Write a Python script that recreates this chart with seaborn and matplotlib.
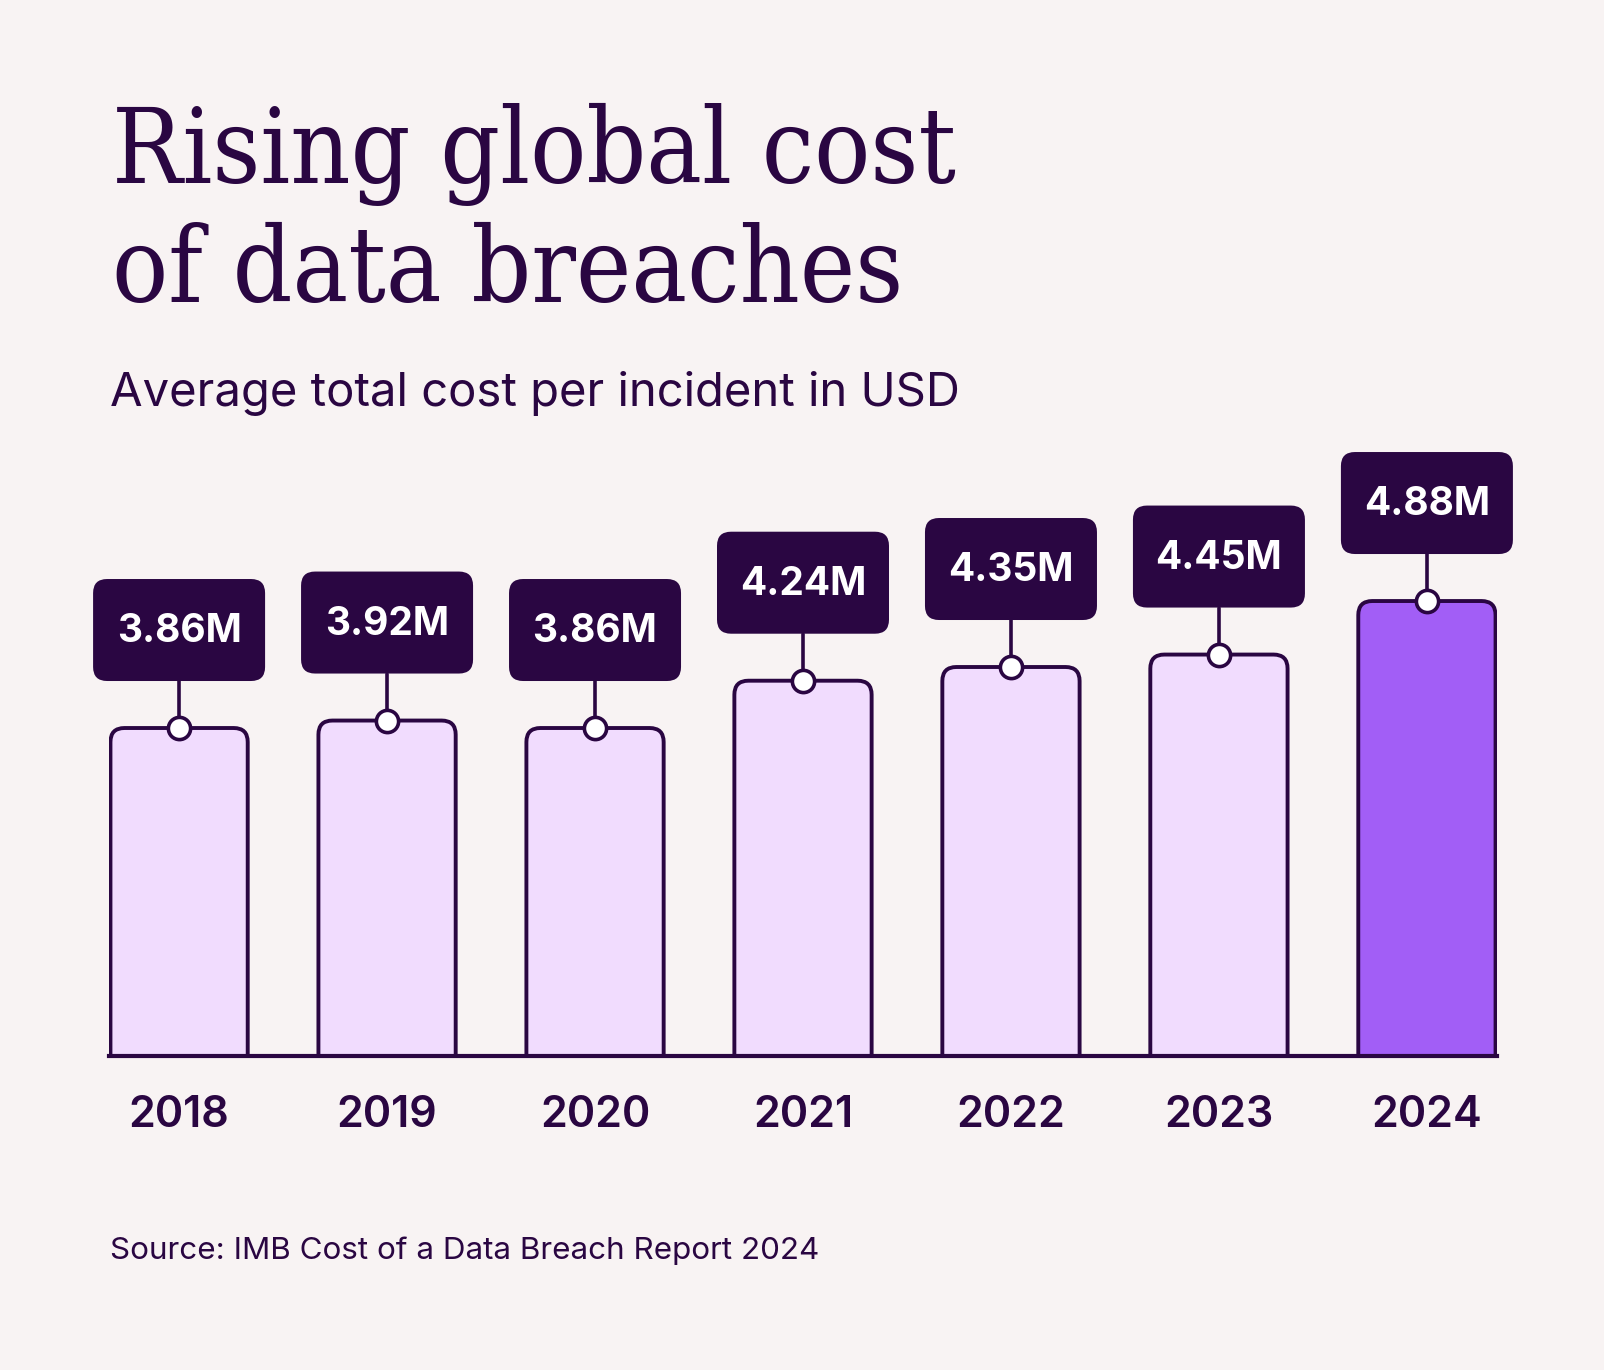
import matplotlib
matplotlib.use("Agg")
import matplotlib.pyplot as plt
import matplotlib.transforms as mtransforms
from matplotlib.patches import FancyBboxPatch
from matplotlib.lines import Line2D
import pandas as pd
import seaborn as sns

years = ["2018", "2019", "2020", "2021", "2022", "2023", "2024"]
costs = [3.86, 3.92, 3.86, 4.24, 4.35, 4.45, 4.88]
labels = ["3.86M", "3.92M", "3.86M", "4.24M", "4.35M", "4.45M", "4.88M"]
highlight = ["2024"]

BG = "#F8F3F3"
DARK = "#2A0642"
LIGHT = "#F1DCFE"
ACCENT = "#A25EF6"

sns.set_theme(style="white")
plt.rcParams["font.family"] = ["Inter", "DejaVu Sans"]

df = pd.DataFrame({"year": years, "cost": costs})
palette = {y: (ACCENT if y in highlight else LIGHT) for y in years}

W, H = 1604, 1370
fig = plt.figure(figsize=(W / 100, H / 100), dpi=100, facecolor=BG)
ax = fig.add_axes([109 / W, 314 / H, 1388 / W, 616 / H])
ax.set_facecolor(BG)

sns.barplot(data=df, x="year", y="cost", hue="year", palette=palette,
            width=0.66, legend=False, ax=ax, edgecolor=DARK, linewidth=2.8,
            saturation=1)

ax.set_xlim(-0.337, 6.337)
ax.set_ylim(1.2256, 1.2256 + 616 / 124.5)

# swap plain bars for ones with rounded top corners
p0 = ax.transData.transform((0, 0))
p1 = ax.transData.transform((1, 1))
px_x, px_y = p1 - p0
r_px = 14
for bar in list(ax.patches):
    rounded = FancyBboxPatch(
        (bar.get_x(), bar.get_y()), bar.get_width(), bar.get_height(),
        boxstyle=f"round,pad=0,rounding_size={r_px / px_x}",
        mutation_aspect=px_x / px_y,
        facecolor=bar.get_facecolor(), edgecolor=DARK, linewidth=2.8, zorder=2)
    ax.add_patch(rounded)
    bar.set_visible(False)

# value callouts
for i, (v, lab) in enumerate(zip(costs, labels)):
    anchor = fig.dpi_scale_trans + mtransforms.ScaledTranslation(i, v, ax.transData)
    ax.add_artist(Line2D([0, 0], [0, 0.47], transform=anchor, color=DARK,
                         lw=2.6, clip_on=False, zorder=3))
    box = FancyBboxPatch((-0.86, 0.47), 1.72, 1.02,
                         boxstyle="round,pad=0,rounding_size=0.14",
                         transform=anchor, facecolor=DARK, edgecolor="none",
                         clip_on=False, zorder=4)
    ax.add_artist(box)
    ax.text(0, 0.86, lab, transform=anchor, ha="center", va="baseline",
            color="white", fontsize=28, fontweight="bold", zorder=5)
    ax.plot(i, v, marker="o", ms=16, mfc="white", mec=DARK, mew=2.6,
            clip_on=False, zorder=6)

sns.despine(ax=ax, left=True)
ax.spines["bottom"].set_color(DARK)
ax.spines["bottom"].set_linewidth(3)
ax.spines["bottom"].set_zorder(7)
ax.set_yticks([])
ax.set_xlabel("")
ax.set_ylabel("")
ax.tick_params(axis="x", length=0, pad=28, labelsize=31, labelcolor=DARK)
for t in ax.get_xticklabels():
    t.set_fontweight("semibold")

title_font = dict(fontsize=75, color=DARK, family=["DejaVu Serif"],
                  fontstretch="condensed")
fig.text(112 / W, (H - 183) / H, "Rising global cost", ha="left",
         va="baseline", **title_font)
fig.text(112 / W, (H - 302) / H, "of data breaches", ha="left",
         va="baseline", **title_font)
fig.text(110 / W, (H - 406) / H, "Average total cost per incident in USD",
         ha="left", va="baseline", fontsize=34, color=DARK)
fig.text(110 / W, (H - 1259) / H, "Source: IMB Cost of a Data Breach Report 2024",
         ha="left", va="baseline", fontsize=22.6, color=DARK)

fig.savefig("out.png", dpi=100, facecolor=BG)
